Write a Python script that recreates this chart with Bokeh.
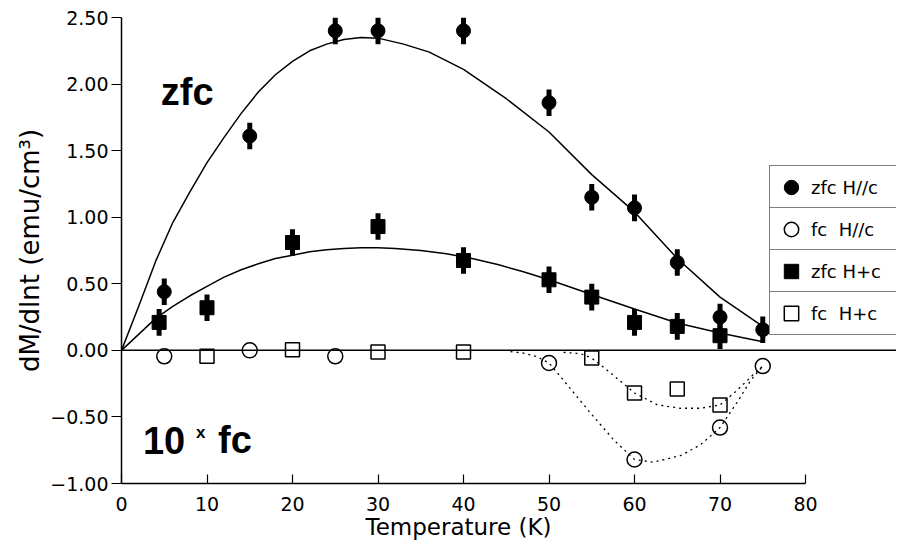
import numpy as np
from bokeh.plotting import figure
from bokeh.models import (Range1d, LinearAxis, FixedTicker, CustomJSTickFormatter,
                          Span, Label, Legend, LegendItem, Title)
from bokeh.embed import file_html
from bokeh.resources import INLINE

# ---------------- data ----------------
# zfc H//c  (filled circles)
T_zfc_par = [5, 15, 25, 30, 40, 50, 55, 60, 65, 70, 75]
M_zfc_par = [0.44, 1.61, 2.40, 2.40, 2.40, 1.86, 1.15, 1.07, 0.66, 0.25, 0.155]
E_zfc_par = [0.10, 0.10, 0.10, 0.10, 0.10, 0.10, 0.10, 0.10, 0.10, 0.10, 0.10]

# zfc H+c  (filled squares)
T_zfc_perp = [4.4, 10, 20, 30, 40, 50, 55, 60, 65, 70]
M_zfc_perp = [0.21, 0.32, 0.81, 0.93, 0.675, 0.53, 0.40, 0.21, 0.18, 0.11]
E_zfc_perp = [0.10, 0.10, 0.10, 0.10, 0.10, 0.10, 0.10, 0.10, 0.10, 0.10]

# fc H//c (open circles, x10)
T_fc_par = [5, 15, 25, 50, 60, 70, 75]
M_fc_par = [-0.045, 0.0, -0.045, -0.095, -0.82, -0.58, -0.118]

# fc H+c (open squares, x10)
T_fc_perp = [10, 20, 30, 40, 55, 60, 65, 70]
M_fc_perp = [-0.045, 0.005, -0.013, -0.013, -0.058, -0.32, -0.29, -0.41]

# solid fit curves
T_fit_par = [0, 2, 4, 6, 8, 10, 12, 14, 16, 18, 20, 22, 24, 26, 28, 30, 33, 36, 40, 45, 50, 55, 60, 65, 70, 75]
M_fit_par = [0, 0.33, 0.67, 0.96, 1.19, 1.41, 1.60, 1.78, 1.94, 2.07, 2.17, 2.25, 2.30, 2.335, 2.35, 2.345,
             2.30, 2.24, 2.11, 1.89, 1.64, 1.32, 1.04, 0.69, 0.40, 0.18]
T_fit_perp = [0, 2, 4, 6, 8, 10, 12, 14, 16, 18, 20, 22, 24, 26, 28, 30, 32, 35, 38, 41, 44, 47, 50, 55, 60,
              65, 70, 75]
M_fit_perp = [0, 0.12, 0.24, 0.33, 0.41, 0.48, 0.55, 0.605, 0.65, 0.69, 0.715, 0.74, 0.755, 0.765, 0.77, 0.77,
              0.765, 0.75, 0.725, 0.69, 0.645, 0.59, 0.53, 0.42, 0.31, 0.205, 0.13, 0.065]

# dotted guide curves
T_dot_par = [45.5, 47, 48.5, 50, 51.7, 54.9, 57.6, 60, 62.2, 65.4, 67.7, 70, 72, 73.6, 75]
M_dot_par = [-0.01, -0.02, -0.045, -0.095, -0.225, -0.475, -0.675, -0.82, -0.84, -0.79, -0.71, -0.58, -0.39,
             -0.225, -0.118]
T_dot_perp = [51.7, 53.7, 55, 57.2, 60, 62.7, 65.4, 67.7, 70, 72, 73.6, 75]
M_dot_perp = [-0.015, -0.025, -0.058, -0.17, -0.32, -0.41, -0.435, -0.435, -0.41, -0.30, -0.20, -0.118]

X_TICKS = [0, 10, 20, 30, 40, 50, 60, 70, 80]
Y_TICKS = [-1.0, -0.5, 0.0, 0.5, 1.0, 1.5, 2.0, 2.5]

LEG_LABELS = ["zfc H//c", "fc  H//c", "zfc H+c", "fc  H+c"]

# ---------------- figure ----------------
p = figure(width=896, height=542, x_range=Range1d(0, 90.64), y_range=Range1d(-1.0, 2.5),
           output_backend="svg", toolbar_location=None,
           x_axis_location=None, y_axis_location=None,
           min_border_left=121, min_border_right=0, min_border_top=17, min_border_bottom=59)
p.outline_line_color = None
p.xgrid.visible = False
p.ygrid.visible = False
p.background_fill_color = "white"

FONT = "DejaVu Sans"

xaxis = LinearAxis(ticker=FixedTicker(ticks=X_TICKS), bounds=(0, 80))
xaxis.major_tick_in = 9
xaxis.major_tick_out = 0
xaxis.minor_tick_line_color = None
xaxis.axis_line_width = 1.5
xaxis.major_tick_line_width = 1.2
xaxis.major_label_standoff = 13
xaxis.major_label_text_font = FONT
xaxis.major_label_text_font_size = "19px"
xaxis.major_label_text_color = "black"
p.add_layout(xaxis, "below")

# x-axis title, centred under the 0..80 axis
p.add_layout(Title(text="Temperature (K)", text_font=FONT, text_font_size="23px", text_font_style="normal",
                   text_color="black", align="left", offset=244, standoff=-4, vertical_align="bottom"),
             "below")

yaxis = LinearAxis(ticker=FixedTicker(ticks=Y_TICKS), bounds=(-1.0, 2.5),
                   formatter=CustomJSTickFormatter(code="return tick.toFixed(2).replace('-', '\u2212');"))
yaxis.major_tick_in = 0
yaxis.major_tick_out = 10
yaxis.minor_tick_line_color = None
yaxis.axis_line_width = 1.5
yaxis.major_tick_line_width = 1.2
yaxis.major_label_standoff = 3
yaxis.major_label_text_font = FONT
yaxis.major_label_text_font_size = "19px"
yaxis.major_label_text_color = "black"
yaxis.axis_label = "dM/dlnt (emu/cm³)"
yaxis.axis_label_text_font = FONT
yaxis.axis_label_text_font_size = "26px"
yaxis.axis_label_text_font_style = "normal"
yaxis.axis_label_text_color = "black"
yaxis.axis_label_standoff = 2
p.add_layout(yaxis, "left")

# zero line
p.add_layout(Span(location=0, dimension="width", line_color="black", line_width=1.5))

# fit curves
p.line(T_fit_par, M_fit_par, line_color="black", line_width=1.5)
p.line(T_fit_perp, M_fit_perp, line_color="black", line_width=1.5)
p.line(T_dot_par, M_dot_par, line_color="black", line_width=1.3, line_dash="2 4")
p.line(T_dot_perp, M_dot_perp, line_color="black", line_width=1.3, line_dash="2 4")

# error bars
tp, mp, ep = np.array(T_zfc_par), np.array(M_zfc_par), np.array(E_zfc_par)
p.segment(tp, mp - ep, tp, mp + ep, line_color="black", line_width=5)
tq, mq, eq = np.array(T_zfc_perp), np.array(M_zfc_perp), np.array(E_zfc_perp)
p.segment(tq, mq - eq, tq, mq + eq, line_color="black", line_width=5)

r1 = p.scatter(T_zfc_par, M_zfc_par, marker="circle", size=14, fill_color="black", line_color="black")
r2 = p.scatter(T_fc_par, M_fc_par, marker="circle", size=15, fill_color=None, line_color="black",
               line_width=1.5)
r3 = p.scatter(T_zfc_perp, M_zfc_perp, marker="square", size=14, fill_color="black", line_color="black")
r4 = p.scatter(T_fc_perp, M_fc_perp, marker="square", size=14, fill_color=None, line_color="black",
               line_width=1.5)

# in-plot texts
p.add_layout(Label(x=4.6, y=1.94, text="zfc", text_font="Liberation Sans", text_font_style="bold",
                   text_font_size="38px", text_color="black", text_baseline="alphabetic"))
p.add_layout(Label(x=2.5, y=-0.675, text="10", text_font="Liberation Sans", text_font_style="bold",
                   text_font_size="38px", text_color="black", text_baseline="alphabetic"))
p.add_layout(Label(x=8.7, y=-0.615, text="x", text_font="Liberation Sans", text_font_style="bold",
                   text_font_size="17px", text_color="black", text_baseline="alphabetic"))
p.add_layout(Label(x=11.3, y=-0.675, text="fc", text_font="Liberation Sans", text_font_style="bold",
                   text_font_size="38px", text_color="black", text_baseline="alphabetic"))

# legend: four stacked boxes
rows_bottom = [274, 232, 190, 148]
for lab, rend, yb in zip(LEG_LABELS, [r1, r2, r3, r4], rows_bottom):
    lg = Legend(items=[LegendItem(label=lab, renderers=[rend])], location=(648, yb),
                orientation="vertical", padding=3, margin=0, spacing=0,
                glyph_width=36, glyph_height=36, label_standoff=2, label_width=82, label_height=20,
                border_line_color="black", border_line_width=1.5,
                background_fill_color="white", background_fill_alpha=1.0,
                label_text_font=FONT, label_text_font_size="18px", label_text_color="black")
    p.add_layout(lg)

open("out.html", "w").write(file_html(p, INLINE))
